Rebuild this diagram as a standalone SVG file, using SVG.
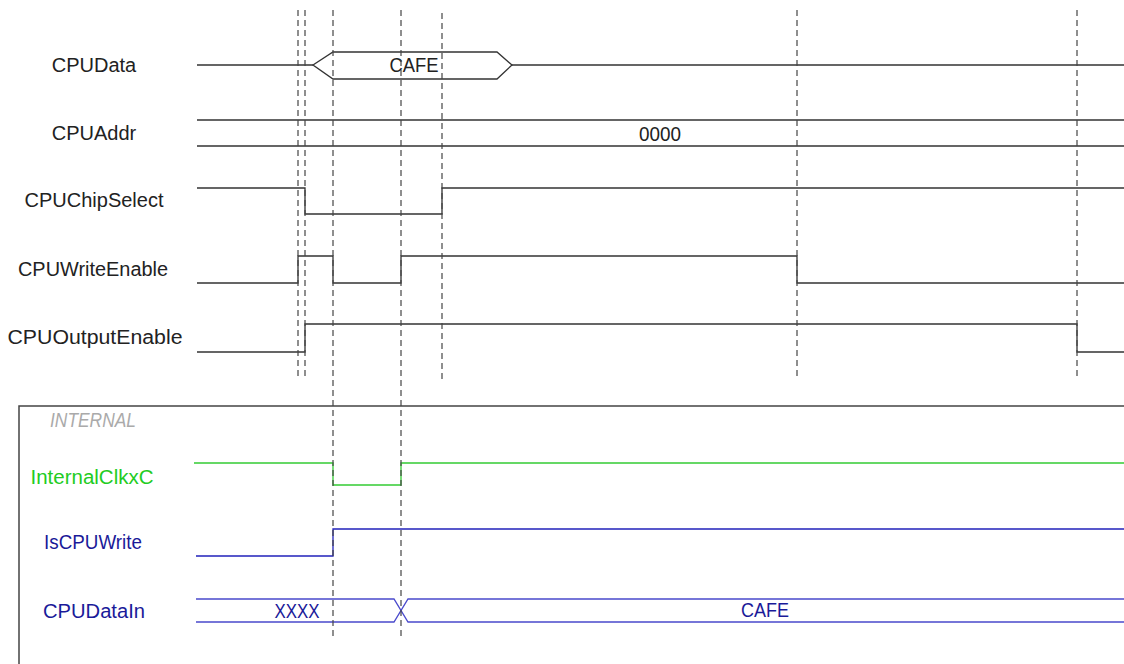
<svg xmlns="http://www.w3.org/2000/svg" width="1124" height="664" viewBox="0 0 1124 664">
<style>
.lbl{font-family:"Liberation Sans",Arial,sans-serif;font-size:20px;text-anchor:middle}
.blk{fill:#222}
.grn{fill:#22cc22}
.blu{fill:#1a1a99}
.val{font-family:"Liberation Sans",Arial,sans-serif;font-size:20px;text-anchor:middle}
.sig{fill:none;stroke:#333;stroke-width:1.3}
.gsig{fill:none;stroke:#33cc33;stroke-width:1.3}
.bsig{fill:none;stroke:#2222bb;stroke-width:1.3}
.bbus{fill:none;stroke:#4a4acc;stroke-width:1.3}
.dash{stroke:#444;stroke-width:1.2;stroke-dasharray:6 4;fill:none}
</style>
<rect width="1124" height="664" fill="#fff"/>
<g id="internal-box">
<path d="M19,664 V406 H1124" fill="none" stroke="#444" stroke-width="1.5"/>
<text x="93" y="427" class="lbl" font-style="italic" fill="#aaa" textLength="86" lengthAdjust="spacingAndGlyphs">INTERNAL</text>
</g>
<g id="CPUData">
<text x="94" y="72" class="lbl blk">CPUData</text>
<path class="sig" d="M197,65 H313 M512,65 H1124"/>
<polygon class="sig" points="313,65 333,52 497,52 512,65 497,79 333,79"/>
<text x="414" y="72" class="val blk" textLength="49" lengthAdjust="spacingAndGlyphs">CAFE</text>
</g>
<g id="CPUAddr">
<text x="94" y="140" class="lbl blk">CPUAddr</text>
<path class="sig" d="M197,120 H1124 M197,146 H1124"/>
<text x="660" y="141" class="val blk" textLength="42" lengthAdjust="spacingAndGlyphs">0000</text>
</g>
<g id="CPUChipSelect">
<text x="94" y="207" class="lbl blk">CPUChipSelect</text>
<polyline class="sig" points="197,188 305,188 305,214 442,214 442,188 1124,188"/>
</g>
<g id="CPUWriteEnable">
<text x="93" y="276" class="lbl blk" textLength="150" lengthAdjust="spacingAndGlyphs">CPUWriteEnable</text>
<polyline class="sig" points="197,283 298,283 298,256 333,256 333,283 401,283 401,256 797,256 797,283 1124,283"/>
</g>
<g id="CPUOutputEnable">
<text x="95" y="344" class="lbl blk" textLength="175" lengthAdjust="spacingAndGlyphs">CPUOutputEnable</text>
<polyline class="sig" points="197,352 305,352 305,324 1077,324 1077,352 1124,352"/>
</g>
<g id="InternalClkxC">
<text x="92" y="484" class="lbl grn" textLength="123" lengthAdjust="spacingAndGlyphs">InternalClkxC</text>
<polyline class="gsig" points="194,463 333,463 333,485 401,485 401,463 1124,463"/>
</g>
<g id="IsCPUWrite">
<text x="93" y="549" class="lbl blu" textLength="98" lengthAdjust="spacingAndGlyphs">IsCPUWrite</text>
<polyline class="bsig" points="196,556 333,556 333,529 1124,529"/>
</g>
<g id="CPUDataIn">
<text x="94" y="618" class="lbl blu" textLength="102" lengthAdjust="spacingAndGlyphs">CPUDataIn</text>
<path class="bbus" d="M196,599 H394 L408,622 H1124 M196,622 H394 L408,599 H1124"/>
<text x="297" y="618" class="val blu" textLength="45" lengthAdjust="spacingAndGlyphs">XXXX</text>
<text x="765" y="617" class="val blu" textLength="48" lengthAdjust="spacingAndGlyphs">CAFE</text>
</g>
<g id="connectors">
<line class="dash" x1="298" y1="10" x2="298" y2="380"/>
<line class="dash" x1="305" y1="10" x2="305" y2="380"/>
<line class="dash" x1="333" y1="10" x2="333" y2="640"/>
<line class="dash" x1="401" y1="10" x2="401" y2="640"/>
<line class="dash" x1="442" y1="13" x2="442" y2="380"/>
<line class="dash" x1="797" y1="10" x2="797" y2="377"/>
<line class="dash" x1="1077" y1="10" x2="1077" y2="377"/>
</g>
</svg>
